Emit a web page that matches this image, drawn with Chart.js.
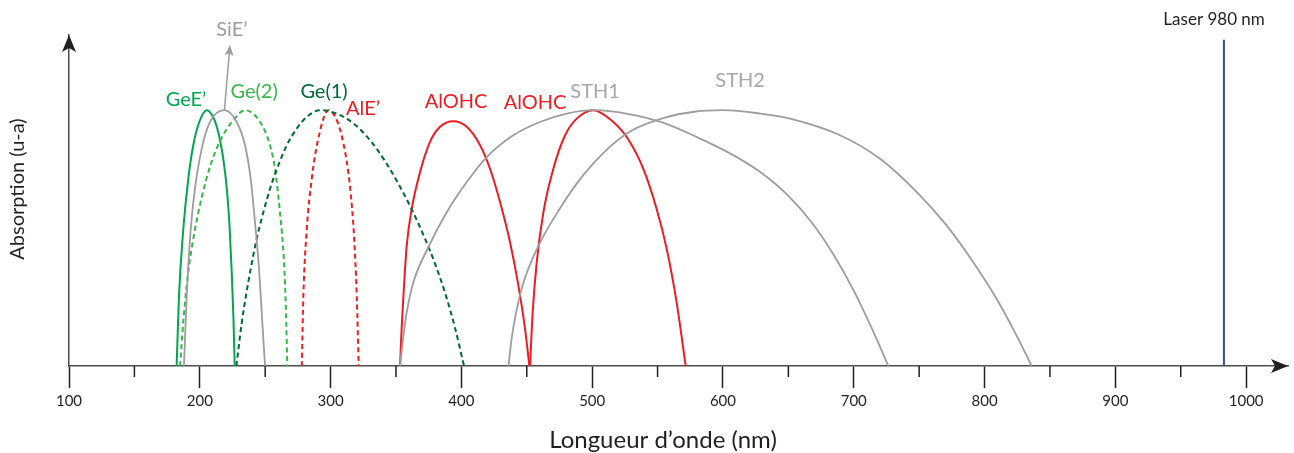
<!DOCTYPE html>
<html>
<head>
<meta charset="utf-8">
<script src="https://cdn.jsdelivr.net/npm/chart.js@4.4.1/dist/chart.umd.min.js"></script>
<style>
  body { margin: 0; background: #fff; }
  #wrap { width: 1294px; height: 453px; position: relative; }
</style>
</head>
<body>
<div id="wrap"><canvas id="absorption"></canvas></div>
<script>
// [longueur d'onde (nm), absorption (u.a., sommet ~ 100)]
const geE = [[182.3,0],[184.1,27.5],[187.4,53.6],[191.2,73.2],[195,86.3],[199.6,95.4],[205.3,100],[209.5,98],[213,93.5],[216,87],[218.5,79],[220.6,69.5],[222.6,56],[224.4,37],[225.7,19],[226.7,0]];
const siE = [[187.9,0],[190,27.5],[193.1,53.6],[196.3,69.3],[201.5,85],[207.8,95.4],[218.8,100],[228.2,95.4],[234.6,86.3],[238.9,73.2],[242.2,56.2],[245.3,37.9],[247.8,17],[249.9,0]];
const ge2 = [[184.9,0],[187.5,18],[191,36],[195.5,51],[201.5,66],[208.5,79],[216.5,89],[225.5,96],[234.6,100],[246,95.4],[253.7,86.3],[257.5,77],[261.3,60],[264.4,40.5],[265.9,20.9],[266.9,0]];
const ge1 = [[228,0],[232.1,17],[235.3,27.5],[238.9,37.9],[243.5,49.7],[248.6,60.1],[253.7,69.3],[260,78.4],[266.5,86.3],[274.1,92.8],[281.8,97.4],[292,100],[305,98.6],[318,94.6],[330,88.4],[341,80.6],[351,72],[361,62.3],[371,51.2],[380,39.8],[388,27.8],[395,15.2],[402,0]];
const alE = [[278,0],[279.2,27.5],[281.8,53.6],[285.6,73.2],[290.6,88.9],[298.3,100],[303.5,97.5],[308,91],[312,81],[315,69.3],[317.9,51],[320,27.5],[321.5,0]];
const alohc1 = [[353.1,0],[354.3,14.4],[355.7,27.5],[358.2,47],[362,61.4],[368.4,75.8],[376,87.6],[383.7,93.5],[393.9,95.7],[404.1,93.5],[414.3,86.3],[421.9,77.1],[429.6,64],[437.2,48.4],[443.6,31.4],[448.7,14.4],[452,0]];
const alohc2 = [[452.5,0],[454.5,20.9],[457.6,40.5],[462.7,60.1],[470.3,77.1],[479.3,90.2],[488.2,96.7],[500.9,100],[513.7,96.5],[526.4,89.5],[539.1,77.1],[549.3,61.4],[557,45.8],[564.6,24.8],[571.5,0]];
const sth1 = [[353.1,0],[355.7,11.8],[358.2,20.9],[363.3,32.7],[374.7,46.4],[388.8,60.1],[404.1,71.9],[419.4,81.7],[439.7,90.2],[460.1,95.4],[480.6,98.7],[502,100],[527,98.6],[553,95.3],[580,89.5],[604,83.5],[628,76],[650,66.5],[668,56],[684,44],[700,29.5],[714,14.5],[726.5,0]];
const sth2 = [[436,0],[438.5,11],[441.5,20],[446.5,31],[458,46],[474,60.5],[493,74.5],[512,85],[530,92],[555,97],[578,99.4],[600,100],[628.4,98.7],[651.3,96.7],[689.5,90.2],[720.1,81],[748.2,68],[771.1,54.9],[791.5,40.5],[809.3,26.2],[824.6,11.8],[836.1,0]];
const laser = [[983,0],[983,127.5]];

const majorTicks = [100,200,300,400,500,600,700,800,900,1000];
const minorTicks = [150,250,350,450,550,650,750,850,950];

const labelTexts = ["GeE’","SiE’","Ge(2)","Ge(1)","AlE’","AlOHC","AlOHC","STH1","STH2","Laser 980 nm"];
const labelX = [189.5,224.6,241.5,295,324.8,395.9,456.3,502.2,613.1,975.5];
const labelY = [104.3,131.4,107.1,107.1,100.8,103.5,103.1,107.1,111.4,135.3];

const INK = '#231f20';
const GREEN = '#00a651', GREEN_LIGHT = '#39b54a', GREEN_DARK = '#006838';
const RED = '#ed1c24', GRAY = '#9d9d9d', BLUE = '#2b4c9e';
const labelColors = [GREEN, GRAY, GREEN_LIGHT, GREEN_DARK, RED, RED, RED, '#a6a6a6', '#a6a6a6', INK];
const FONT = 'Lato, "Open Sans", sans-serif';

const curve = (label, pts, color, dashed) => ({
    label,
    data: pts.map(p => ({x: p[0], y: p[1]})),
    borderColor: color,
    borderWidth: color === GRAY ? 1.8 : 2,
    borderDash: dashed ? [5, 3.5] : [],
    pointRadius: 0,
    showLine: true,
    fill: false,
    clip: false,
    cubicInterpolationMode: 'monotone'
});

const decorations = {
    id: 'decorations',
    afterDraw(chart) {
        const {ctx, chartArea: a, scales: {x, y}} = chart;
        ctx.save();

        // petites graduations
        ctx.strokeStyle = INK;
        ctx.lineWidth = 1.5;
        minorTicks.forEach(v => {
            const px = x.getPixelForValue(v);
            ctx.beginPath();
            ctx.moveTo(px, a.bottom);
            ctx.lineTo(px, a.bottom + 11);
            ctx.stroke();
        });

        // fleches des axes
        ctx.fillStyle = INK;
        ctx.beginPath();
        ctx.moveTo(a.right, a.bottom);
        ctx.lineTo(a.right - 17, a.bottom - 7);
        ctx.lineTo(a.right - 13, a.bottom);
        ctx.lineTo(a.right - 17, a.bottom + 7);
        ctx.closePath();
        ctx.fill();
        ctx.beginPath();
        ctx.moveTo(a.left, a.top);
        ctx.lineTo(a.left - 7, a.top + 17);
        ctx.lineTo(a.left, a.top + 13);
        ctx.lineTo(a.left + 7, a.top + 17);
        ctx.closePath();
        ctx.fill();

        // fleche vers SiE'
        const x0 = x.getPixelForValue(218.8), y0 = y.getPixelForValue(100);
        const x1 = x.getPixelForValue(223.1), y1 = y.getPixelForValue(125.5);
        const ang = Math.atan2(y1 - y0, x1 - x0);
        ctx.strokeStyle = GRAY;
        ctx.fillStyle = GRAY;
        ctx.lineWidth = 1.5;
        ctx.beginPath();
        ctx.moveTo(x0, y0);
        ctx.lineTo(x1 - 8 * Math.cos(ang), y1 - 8 * Math.sin(ang));
        ctx.stroke();
        ctx.beginPath();
        ctx.moveTo(x1, y1);
        ctx.lineTo(x1 - 11 * Math.cos(ang) + 4.5 * Math.sin(ang), y1 - 11 * Math.sin(ang) - 4.5 * Math.cos(ang));
        ctx.lineTo(x1 - 8 * Math.cos(ang), y1 - 8 * Math.sin(ang));
        ctx.lineTo(x1 - 11 * Math.cos(ang) - 4.5 * Math.sin(ang), y1 - 11 * Math.sin(ang) + 4.5 * Math.cos(ang));
        ctx.closePath();
        ctx.fill();

        // etiquettes des bandes
        ctx.textAlign = 'center';
        ctx.textBaseline = 'middle';
        labelTexts.forEach((t, i) => {
            ctx.font = (i === labelTexts.length - 1 ? '17px ' : '20px ') + FONT;
            ctx.fillStyle = labelColors[i];
            ctx.fillText(t, x.getPixelForValue(labelX[i]), y.getPixelForValue(labelY[i]));
        });

        // titres des axes
        ctx.fillStyle = INK;
        ctx.font = '24px ' + FONT;
        ctx.fillText('Longueur d’onde (nm)', 663, 440);
        ctx.font = '20px ' + FONT;
        ctx.translate(18, 189);
        ctx.rotate(-Math.PI / 2);
        ctx.fillText('Absorption (u-a)', 0, 0);
        ctx.restore();
    }
};

new Chart(document.getElementById('absorption'), {
    type: 'scatter',
    data: {
        datasets: [
            curve('STH2', sth2, GRAY, false),
            curve('STH1', sth1, GRAY, false),
            curve('SiE’', siE, GRAY, false),
            curve('Ge(1)', ge1, GREEN_DARK, true),
            curve('Ge(2)', ge2, GREEN_LIGHT, true),
            curve('GeE’', geE, GREEN, false),
            curve('AlE’', alE, RED, true),
            curve('AlOHC 1', alohc1, RED, false),
            curve('AlOHC 2', alohc2, RED, false),
            { label: 'Laser', data: laser.map(p => ({x: p[0], y: p[1]})), borderColor: BLUE, borderWidth: 2, pointRadius: 0, showLine: true, clip: false }
        ]
    },
    options: {
        animation: false,
        responsive: true,
        maintainAspectRatio: false,
        layout: { padding: { left: 69, top: 35, right: 6, bottom: 39 } },
        plugins: { legend: { display: false }, tooltip: { enabled: false } },
        scales: {
            x: {
                type: 'linear',
                min: 100,
                max: 1032,
                afterBuildTicks: s => { s.ticks = majorTicks.map(v => ({value: v})); },
                grid: { drawOnChartArea: false, drawTicks: true, tickLength: 22, tickColor: INK, tickWidth: 1.5 },
                border: { display: true, color: '#4d4d4d', width: 1.5 },
                ticks: { color: INK, font: { family: FONT, size: 15 }, padding: 4, maxRotation: 0, autoSkip: false, callback: v => String(v) }
            },
            y: {
                min: 0,
                max: 129.4,
                ticks: { display: false },
                grid: { display: false, drawTicks: false },
                border: { display: true, color: '#4d4d4d', width: 1.5 }
            }
        }
    },
    plugins: [decorations]
});
</script>
</body>
</html>
